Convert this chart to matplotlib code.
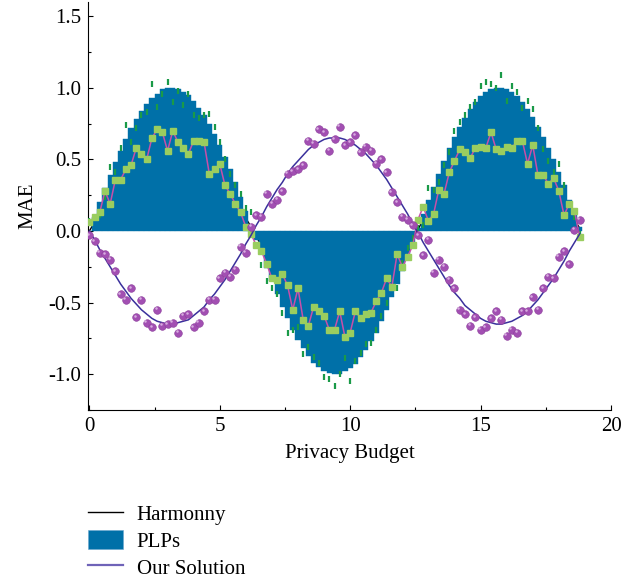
"""
MAE vs privacy budget: PLPs bars, Harmony line and Our Solution points.
"""
import numpy as np
import matplotlib
matplotlib.use('Agg')
import matplotlib.pyplot as plt
import matplotlib.transforms as mtransforms


FIGW = 6.34
FIGH = 5.80

# privacy budget, one value every 0.2
budget = [round(0.2 * k, 1) for k in range(95)]

# PLPs (bars)
plps = [0.00, 0.10, 0.20, 0.30, 0.39, 0.48, 0.56, 0.64, 0.72, 0.78,
        0.84, 0.89, 0.93, 0.96, 0.99, 1.00, 1.00, 0.99, 0.97, 0.95,
        0.91, 0.86, 0.81, 0.75, 0.68, 0.60, 0.52, 0.43, 0.34, 0.24,
        0.14, 0.04, -0.06, -0.16, -0.26, -0.35, -0.44, -0.53, -0.61, -0.69,
        -0.76, -0.82, -0.87, -0.92, -0.95, -0.98, -0.99, -1.00, -1.00, -0.98,
        -0.96, -0.93, -0.88, -0.83, -0.77, -0.71, -0.63, -0.55, -0.46, -0.37,
        -0.28, -0.18, -0.08, 0.02, 0.12, 0.22, 0.31, 0.40, 0.49, 0.58,
        0.66, 0.73, 0.79, 0.85, 0.90, 0.94, 0.97, 0.99, 1.00, 1.00,
        0.99, 0.97, 0.94, 0.90, 0.85, 0.80, 0.73, 0.66, 0.58, 0.50,
        0.41, 0.32, 0.22, 0.12, 0.03]

# PLPs samples (small green dashes)
plps_pts = [0.07, 0.09, 0.11, 0.24, 0.45, 0.41, 0.58, 0.74, 0.62, 0.72,
            0.81, 0.83, 1.03, 0.87, 0.96, 1.04, 0.90, 0.98, 0.88, 0.96,
            0.81, 0.79, 0.81, 0.82, 0.73, 0.62, 0.50, 0.40, 0.32, 0.26,
            0.16, 0.13, -0.10, -0.24, -0.35, -0.40, -0.44, -0.57, -0.71, -0.69,
            -0.67, -0.86, -0.81, -0.88, -0.92, -1.02, -1.03, -1.08, -1.00, -0.89,
            -1.05, -0.91, -0.85, -0.79, -0.78, -0.69, -0.59, -0.50, -0.40, -0.40,
            -0.22, -0.12, -0.05, 0.02, 0.04, 0.30, 0.29, 0.34, 0.46, 0.55,
            0.70, 0.76, 0.81, 0.87, 0.90, 1.01, 1.04, 1.03, 1.00, 1.09,
            0.91, 1.01, 0.97, 0.86, 0.91, 0.85, 0.72, 0.57, 0.49, 0.41,
            0.47, 0.32, 0.18, 0.10, -0.02]

# Harmony (black line, mostly hidden behind the bars)
harmony = [0.00, 0.06, 0.13, 0.19, 0.25, 0.31, 0.37, 0.42, 0.47, 0.51,
           0.55, 0.58, 0.61, 0.63, 0.64, 0.65, 0.65, 0.64, 0.63, 0.62,
           0.59, 0.56, 0.53, 0.48, 0.44, 0.39, 0.34, 0.28, 0.22, 0.16,
           0.09, 0.03, -0.04, -0.10, -0.17, -0.23, -0.29, -0.34, -0.40, -0.45,
           -0.49, -0.53, -0.57, -0.60, -0.62, -0.64, -0.65, -0.65, -0.65, -0.64,
           -0.62, -0.60, -0.57, -0.54, -0.50, -0.46, -0.41, -0.36, -0.30, -0.24,
           -0.18, -0.12, -0.05, 0.01, 0.08, 0.14, 0.20, 0.26, 0.32, 0.38,
           0.43, 0.47, 0.52, 0.55, 0.58, 0.61, 0.63, 0.64, 0.65, 0.65,
           0.64, 0.63, 0.61, 0.59, 0.56, 0.52, 0.48, 0.43, 0.38, 0.33,
           0.27, 0.21, 0.14, 0.08, 0.02]

# Harmony samples (green squares)
harmony_pts = [0.06, 0.10, 0.13, 0.28, 0.19, 0.36, 0.36, 0.43, 0.46, 0.58,
               0.54, 0.50, 0.65, 0.71, 0.69, 0.56, 0.70, 0.62, 0.58, 0.54,
               0.63, 0.63, 0.62, 0.40, 0.43, 0.47, 0.32, 0.26, 0.19, 0.13,
               0.03, -0.02, -0.10, -0.14, -0.23, -0.33, -0.34, -0.30, -0.38, -0.55,
               -0.40, -0.62, -0.66, -0.53, -0.56, -0.59, -0.69, -0.69, -0.56, -0.74,
               -0.71, -0.56, -0.61, -0.58, -0.57, -0.49, -0.43, -0.33, -0.39, -0.16,
               -0.25, -0.18, -0.10, 0.08, 0.17, 0.07, 0.12, 0.29, 0.26, 0.41,
               0.49, 0.57, 0.55, 0.51, 0.58, 0.59, 0.58, 0.69, 0.57, 0.56,
               0.59, 0.58, 0.63, 0.63, 0.47, 0.60, 0.39, 0.39, 0.33, 0.37,
               0.28, 0.11, 0.19, 0.14, -0.04]

# Our Solution (purple line)
ours = [-0.00, -0.06, -0.13, -0.19, -0.25, -0.31, -0.37, -0.42, -0.47, -0.51,
        -0.55, -0.58, -0.61, -0.63, -0.64, -0.65, -0.65, -0.64, -0.63, -0.62,
        -0.59, -0.56, -0.53, -0.48, -0.44, -0.39, -0.34, -0.28, -0.22, -0.16,
        -0.09, -0.03, 0.04, 0.10, 0.17, 0.23, 0.29, 0.34, 0.40, 0.45,
        0.49, 0.53, 0.57, 0.60, 0.62, 0.64, 0.65, 0.65, 0.65, 0.64,
        0.62, 0.60, 0.57, 0.54, 0.50, 0.46, 0.41, 0.36, 0.30, 0.24,
        0.18, 0.12, 0.05, -0.01, -0.08, -0.14, -0.20, -0.26, -0.32, -0.38,
        -0.43, -0.47, -0.52, -0.55, -0.58, -0.61, -0.63, -0.64, -0.65, -0.65,
        -0.64, -0.63, -0.61, -0.59, -0.56, -0.52, -0.48, -0.43, -0.38, -0.33,
        -0.27, -0.21, -0.14, -0.08, -0.02]

# Our Solution samples (purple balls)
ours_pts = [-0.03, -0.07, -0.15, -0.16, -0.20, -0.28, -0.44, -0.48, -0.40, -0.60,
            -0.48, -0.64, -0.67, -0.55, -0.66, -0.65, -0.64, -0.71, -0.59, -0.58,
            -0.67, -0.64, -0.56, -0.48, -0.48, -0.33, -0.29, -0.32, -0.27, -0.11,
            -0.15, 0.03, 0.11, 0.10, 0.26, 0.19, 0.22, 0.28, 0.40, 0.42,
            0.43, 0.46, 0.63, 0.61, 0.71, 0.69, 0.56, 0.64, 0.73, 0.60,
            0.62, 0.67, 0.55, 0.59, 0.56, 0.47, 0.50, 0.41, 0.27, 0.20,
            0.10, 0.08, 0.04, -0.03, -0.17, -0.06, -0.29, -0.20, -0.25, -0.34,
            -0.40, -0.55, -0.58, -0.66, -0.60, -0.69, -0.67, -0.61, -0.56, -0.62,
            -0.73, -0.69, -0.71, -0.56, -0.56, -0.46, -0.55, -0.40, -0.32, -0.33,
            -0.18, -0.14, -0.23, 0.01, 0.08]

BLUE = '#0070a8'
GREEN_SQ = '#9acd5f'
GREEN_DASH = '#1a9a48'
MAGENTA = '#c94fa8'
PURPLE = '#a24fb2'
INDIGO = '#3a309c'


def make_plot():
    plt.rcParams['font.family'] = ['Liberation Serif', 'DejaVu Serif']
    plt.rcParams['font.size'] = 15
    plt.rcParams['axes.unicode_minus'] = False

    fig = plt.figure(figsize=(FIGW, FIGH), dpi=100)
    ax = fig.add_axes([88 / 634, 170 / 580, 523 / 634, 408 / 580])

    ax.plot(budget, harmony, color='black', lw=1.0, zorder=1)
    ax.bar(budget, plps, width=0.2, color=BLUE, edgecolor=BLUE,
           linewidth=0.3, zorder=2)
    ax.plot(budget, plps_pts, ls='none', marker='|', ms=4, mew=1.6,
            color=GREEN_DASH, zorder=3)
    ax.plot(budget, harmony_pts, color=MAGENTA, lw=1.1, marker='s', ms=4.4,
            mfc=GREEN_SQ, mec=GREEN_SQ, zorder=4)
    ax.plot(budget, ours, color=INDIGO, lw=1.1, zorder=5)
    ax.plot(budget, ours_pts, ls='none', marker='o', ms=5.5, mfc=PURPLE,
            mec='#8c3f9c', mew=0.4, zorder=6)
    # little highlight on each ball
    hl = mtransforms.offset_copy(ax.transData, fig=fig, x=-1.0, y=1.0,
                                 units='points')
    ax.plot(budget, ours_pts, ls='none', marker='o', ms=1.8, mfc='#e6c6ec',
            mec='none', alpha=0.8, transform=hl, zorder=7)

    ax.set_xlim(-0.05, 20)
    ax.set_ylim(-1.25, 1.6)
    ax.set_xticks([0, 5, 10, 15, 20])
    ax.set_xticks([2.5, 7.5, 12.5, 17.5], minor=True)
    ax.set_yticks([-1.0, -0.5, 0.0, 0.5, 1.0, 1.5])
    ax.set_yticks(np.arange(-1.25, 1.6, 0.25), minor=True)
    ax.set_yticklabels(['-1.0', '-0.5', '0.0', '0.5', '1.0', '1.5'])
    ax.tick_params(which='both', direction='in', width=0.8, pad=5)
    ax.tick_params(which='major', length=3.5)
    ax.tick_params(which='minor', length=2)
    for s in ['top', 'right']:
        ax.spines[s].set_visible(False)
    for s in ['left', 'bottom']:
        ax.spines[s].set_linewidth(0.8)

    ax.set_xlabel('Privacy Budget', labelpad=6)
    ax.set_ylabel('MAE', labelpad=8)

    h1, = ax.plot([], [], color='black', lw=1.0)
    h2 = plt.Rectangle((0, 0), 1, 1, facecolor=BLUE, edgecolor='#6aa6cf',
                       linewidth=0.4)
    h3, = ax.plot([], [], color='#6f63b8', lw=1.6)
    fig.legend([h1, h2, h3], ['Harmonny', 'PLPs', 'Our Solution'],
               loc='upper left', bbox_to_anchor=(69 / 634, 1 - 485 / 580),
               frameon=False, handlelength=1.7, handleheight=1.0,
               labelspacing=0.25, handletextpad=0.65, borderpad=0.4)
    return fig


if __name__ == "__main__":
    fig = make_plot()
    fig.savefig('out.png', dpi=100)
